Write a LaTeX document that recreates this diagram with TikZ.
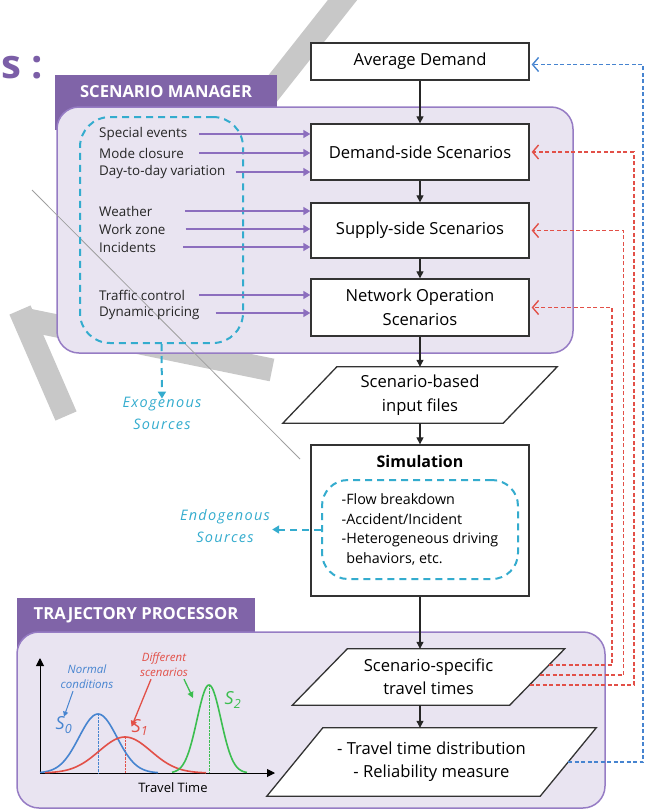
\documentclass[tikz,border=0pt]{standalone}
\usepackage{fontspec}
\setmainfont{Open Sans}
\newfontfamily\spacedit[LetterSpace=9]{Open Sans}
\usetikzlibrary{arrows.meta,calc}

\definecolor{tabpurple}{RGB}{128,100,168}
\definecolor{lavender}{RGB}{233,228,241}
\definecolor{frame}{RGB}{150,124,196}
\definecolor{arrowpurple}{RGB}{140,110,190}
\definecolor{cyanline}{RGB}{52,172,206}
\definecolor{fbred}{RGB}{226,80,72}
\definecolor{fbblue}{RGB}{70,132,208}
\definecolor{curvegreen}{RGB}{60,190,80}
\definecolor{wmgray}{RGB}{200,200,200}
\definecolor{titlepurple}{RGB}{123,94,167}

\newcommand\fsz[2]{\fontsize{#1}{#2}\selectfont}

\pgfdeclarelayer{bg}
\pgfdeclarelayer{mid}
\pgfsetlayers{bg,mid,main}

\tikzset{
  box/.style={draw=black!80, line width=1.3pt, fill=white, minimum width=218pt,
    align=center, font=\fsz{16.6}{24}, inner sep=0pt},
  para/.style={minimum width=220pt, align=center, font=\fsz{16.6}{24.5}, inner sep=0pt},
  paraline/.style={draw=black!80, line width=1.3pt, fill=white, line join=miter},
  flow/.style={line width=1.1pt, black!85, -{Triangle[length=7pt,width=7pt]}},
  lbl/.style={anchor=west, font=\fsz{13.4}{15}, inner sep=0pt, text=black!85},
  parrow/.style={line width=1.3pt, arrowpurple, -{Triangle[length=7pt,width=8pt]}},
  fbr/.style={line width=1.8pt, fbred, dash pattern=on 4pt off 2.5pt,
    -{Straight Barb[length=6pt,width=14pt,line width=1.4pt]}},
  fbb/.style={line width=1.8pt, fbblue, dash pattern=on 4pt off 2.5pt,
    -{Straight Barb[length=6pt,width=14pt,line width=1.4pt]}},
  cydash/.style={draw=cyanline, line width=2pt, dash pattern=on 7pt off 5pt},
  cyarrow/.style={cyanline, line width=2pt, dash pattern=on 7pt off 5pt,
    -{Triangle[length=7pt,width=8pt]}},
  cytext/.style={text=cyanline, font=\spacedit\fsz{14.5}{22}\itshape, align=center, inner sep=0pt},
  tab/.style={fill=tabpurple, draw=none},
  tabtext/.style={text=white, font=\fsz{16.6}{18}\bfseries, inner sep=0pt},
  panel/.style={fill=lavender, draw=frame, line width=1.5pt, rounded corners=22pt},
  watermark/.style={wmgray, line width=23pt, line cap=butt},
  dens/.style={line width=1.6pt},
  tiny/.style={font=\fsz{11.5}{15}\itshape, align=center, inner sep=0pt},
}

\begin{document}
\begin{tikzpicture}[x=1pt,y=-1pt]
\useasboundingbox (0,0) rectangle (646,812);

% ---------- background layer: watermark strokes and panels ----------
\begin{pgfonlayer}{bg}
  \draw[watermark] (352,-12) -- (262,102);
  \draw[watermark] (20,310) -- (66,416);
  \draw[watermark] (28,320) -- (272,370);

  % Scenario manager panel
  \fill[tab] (55,75) rectangle (277,130);
  \draw[panel] (57,107) rectangle (573,353);
  % Trajectory processor panel
  \fill[tab] (17,598) rectangle (255,650);
  \draw[panel] (17,632) rectangle (605,808);
\end{pgfonlayer}

% thin guide stroke crossing the scenario manager
\begin{pgfonlayer}{mid}
  \draw[gray!75, line width=0.8pt] (32,190) -- (300,459);
\end{pgfonlayer}

\node[anchor=base west, text=titlepurple, font=\fsz{40}{44}\bfseries, inner sep=0pt]
  (title) at (1,78) {s :};

\node[tabtext] (smtab) at (166,92) {SCENARIO MANAGER};
\node[tabtext] (tptab) at (136,615) {TRAJECTORY PROCESSOR};

% ---------- main flow ----------
\node[box, minimum height=37pt] (avg) at (420,61.5) {Average Demand};
\node[box, minimum height=56pt] (dem) at (420,152) {Demand-side Scenarios};
\node[box, minimum height=55pt] (sup) at (420,230.5) {Supply-side Scenarios};
\node[box, minimum height=57pt] (net) at (420,307.5) {Network Operation\\Scenarios};

\node[para, minimum height=56pt] (inp) at (420,395) {Scenario-based\\input files};
\node[box, minimum height=151pt] (sim) at (420,520.5) {};
\node[font=\fsz{16}{18}\bfseries, inner sep=0pt] (simt) at (420,461) {Simulation};
\node[cydash, rounded corners=26pt, minimum width=196pt, minimum height=99pt,
      align=left, font=\fsz{14.3}{19.7}, inner sep=0pt] (endo) at (420,529.5)
  {-Flow breakdown\\-Accident/Incident\\-Heterogeneous driving\\\phantom{-}behaviors, etc.};

\node[para, minimum width=217pt, minimum height=56pt, font=\fsz{16.6}{23}] (spec) at (428.5,677)
  {Scenario-specific\\travel times};
\node[para, minimum width=273pt, minimum height=68pt, font=\fsz{16.6}{23}] (dist) at (431.5,762)
  {- Travel time distribution\\- Reliability measure};

\begin{pgfonlayer}{mid}
  \draw[paraline] ([xshift=27pt]inp.north west) -- ([xshift=27pt]inp.north east)
    -- ([xshift=-27pt]inp.south east) -- ([xshift=-27pt]inp.south west) -- cycle;
  \draw[paraline] ([xshift=27.5pt]spec.north west) -- ([xshift=27.5pt]spec.north east)
    -- ([xshift=-27.5pt]spec.south east) -- ([xshift=-27.5pt]spec.south west) -- cycle;
  \draw[paraline] ([xshift=28pt]dist.north west) -- ([xshift=28pt]dist.north east)
    -- ([xshift=-28pt]dist.south east) -- ([xshift=-28pt]dist.south west) -- cycle;
\end{pgfonlayer}

\draw[flow] (avg.south) -- (dem.north);
\draw[flow] (dem.south) -- (sup.north);
\draw[flow] (sup.south) -- (net.north);
\draw[flow] (net.south) -- (inp.north);
\draw[flow] (inp.south) -- (sim.north);
\draw[flow] (sim.south) -- (sim.south |- spec.north);
\draw[flow] (sim.south |- spec.south) -- (sim.south |- dist.north);

% ---------- exogenous sources ----------
\node[cydash, rounded corners=30pt, minimum width=163pt, minimum height=226pt]
  (exo) at (161.5,230) {};
\node[lbl] (l1) at (99,134) {Special events};
\node[lbl] (l2) at (99,153) {Mode closure};
\node[lbl] (l3) at (99,172) {Day-to-day variation};
\node[lbl] (l4) at (99,211) {Weather};
\node[lbl] (l5) at (99,229) {Work zone};
\node[lbl] (l6) at (99,247) {Incidents};
\node[lbl] (l7) at (99,295) {Traffic control};
\node[lbl] (l8) at (99,313) {Dynamic pricing};

\draw[parrow] ([xshift=12pt]l1.east) -- (dem.west |- l1.east);
\draw[parrow] ([xshift=15pt]l2.east) -- (dem.west |- l2.east);
\draw[parrow] ([xshift=10pt]l3.east) -- (dem.west |- l3.east);
\draw[parrow] ([xshift=33pt]l4.east) -- (sup.west |- l4.east);
\draw[parrow] ([xshift=20pt]l5.east) -- (sup.west |- l5.east);
\draw[parrow] ([xshift=27pt]l6.east) -- (sup.west |- l6.east);
\draw[parrow] ([xshift=14pt]l7.east) -- (net.west |- l7.east);
\draw[parrow] ([xshift=16pt]l8.east) -- (net.west |- l8.east);

\node[cytext] (exot) at (162,413) {Exogenous\\Sources};
\draw[cyarrow] (exo.south) -- ([yshift=-2pt]exot.north);

\node[cytext] (endot) at (225,526) {Endogenous\\Sources};
\draw[cyarrow] (endo.west) -- ([xshift=2pt]endot.east |- endo.west);

% ---------- feedback loops ----------
\coordinate (r1) at (549,665);
\coordinate (r2) at (539.5,675);
\coordinate (r3) at (529.6,685);
\coordinate (b1) at (568,762);
\draw[fbr] (r1) -- ++(63,0) |- ([xshift=2pt]net.east);
\draw[fbr] (r2) -- ++(84,0) |- ([xshift=2pt]sup.east);
\draw[fbr] (r3) -- ++(104,0) |- ([xshift=2pt]dem.east);
\draw[fbb] (b1) -- ++(75,0) |- ([xshift=2pt,yshift=-3pt]avg.east);

% ---------- travel time distributions ----------
\coordinate (org) at (40,773);
\draw[line width=1pt, -{Triangle[length=8pt,width=8pt]}] (org) -- ++(0,-115);
\draw[line width=1pt, -{Triangle[length=8pt,width=8pt]}] (org) -- ++(235,0);
\node[font=\fsz{13}{14}, inner sep=0pt] (tt) at (173,788) {Travel Time};

\draw[fbblue, densely dotted, thin] (98,714) -- (98,773);
\draw[fbred, densely dotted, thin] (125,737) -- (125,773);
\draw[curvegreen, densely dotted, thin] (209,685) -- (209,773);

\draw[dens, fbblue] plot[domain=40:158, samples=80, smooth]
  (\x, {773-59*exp(-((\x-98)^2)/722)});
\draw[dens, fbred] plot[domain=45:206, samples=80, smooth]
  (\x, {773-36*exp(-((\x-125)^2)/1352)});
\draw[dens, curvegreen] plot[domain=172:247, samples=80, smooth]
  (\x, {773-88*exp(-((\x-209)^2)/288)});

\node[text=fbblue, font=\fsz{18}{18}\itshape, inner sep=0pt] (s0) at (64,725) {S\textsubscript{0}};
\node[text=fbred, font=\fsz{18}{18}\itshape, inner sep=0pt] (s1) at (140,727) {S\textsubscript{1}};
\node[text=curvegreen, font=\fsz{18}{18}\itshape, inner sep=0pt] (s2) at (233,700) {S\textsubscript{2}};

\node[tiny, text=fbblue] (nc) at (87,677) {Normal\\conditions};
\node[tiny, text=fbred] (ds) at (164,665) {Different\\scenarios};
\draw[fbblue, line width=1pt, -{Triangle[length=5pt,width=5pt]}] (nc.south) ++(-14,2) -- (s0.north);
\draw[fbred, line width=1.3pt, -{Triangle[length=6pt,width=6pt]}] (ds.south) ++(-13,2) -- ([yshift=-8pt]s1.north west);
\draw[curvegreen, line width=1.3pt, -{Triangle[length=6pt,width=6pt]}] (ds.south) ++(20,2) -- (193,698);

\end{tikzpicture}
\end{document}
